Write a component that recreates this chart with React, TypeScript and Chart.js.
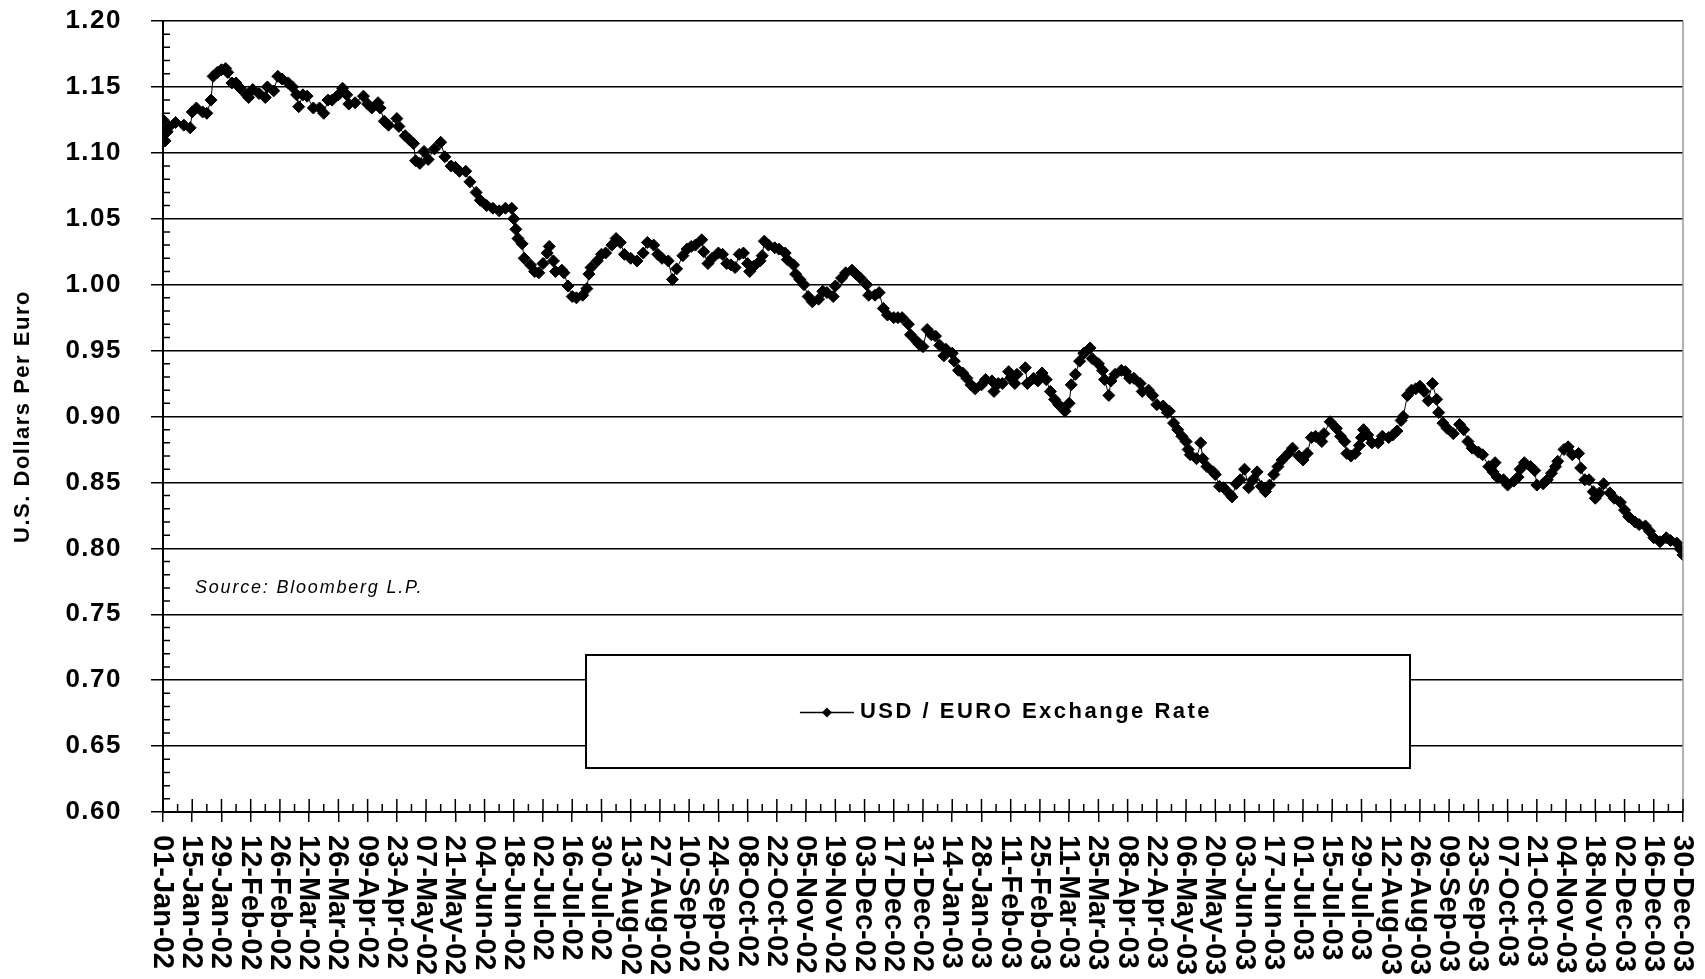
import React, { useEffect, useRef } from 'react';
import { Chart, registerables } from 'chart.js';

Chart.register(...registerables);

// ---------- data ----------
const tickLabels = [
  '01-Jan-02', '15-Jan-02', '29-Jan-02', '12-Feb-02', '26-Feb-02', '12-Mar-02', '26-Mar-02',
  '09-Apr-02', '23-Apr-02', '07-May-02', '21-May-02', '04-Jun-02', '18-Jun-02', '02-Jul-02',
  '16-Jul-02', '30-Jul-02', '13-Aug-02', '27-Aug-02', '10-Sep-02', '24-Sep-02', '08-Oct-02',
  '22-Oct-02', '05-Nov-02', '19-Nov-02', '03-Dec-02', '17-Dec-02', '31-Dec-02', '14-Jan-03',
  '28-Jan-03', '11-Feb-03', '25-Feb-03', '11-Mar-03', '25-Mar-03', '08-Apr-03', '22-Apr-03',
  '06-May-03', '20-May-03', '03-Jun-03', '17-Jun-03', '01-Jul-03', '15-Jul-03', '29-Jul-03',
  '12-Aug-03', '26-Aug-03', '09-Sep-03', '23-Sep-03', '07-Oct-03', '21-Oct-03', '04-Nov-03',
  '18-Nov-03', '02-Dec-03', '16-Dec-03', '30-Dec-03',
];

// days counted from 01-Jan-02
const daysH1_02 = [
  0, 1, 2, 3, 6, 10, 13, 14, 16, 19,
  21, 23, 24, 26, 28, 30, 31, 33, 35, 37,
  40, 41, 43, 46, 49, 50, 53, 55, 57, 60,
  62, 64, 65, 67, 69, 72, 75, 77, 79, 81,
  84, 86, 88, 89, 92, 96, 98, 100, 103, 104,
  106, 108, 112, 113, 116, 118, 120, 121, 123, 125,
  127, 130, 133, 135, 138, 140, 142, 145, 147, 150,
  152,
];
const ratesH1_02 = [
  1.125, 1.109, 1.116, 1.120, 1.123, 1.121, 1.119, 1.131, 1.134, 1.131,
  1.130, 1.140, 1.158, 1.161, 1.163, 1.164, 1.161, 1.153, 1.153, 1.149,
  1.144, 1.142, 1.148, 1.145, 1.142, 1.150, 1.147, 1.158, 1.156, 1.153,
  1.150, 1.144, 1.135, 1.144, 1.143, 1.134, 1.134, 1.130, 1.140, 1.140,
  1.144, 1.149, 1.144, 1.137, 1.138, 1.143, 1.137, 1.134, 1.138, 1.134,
  1.124, 1.121, 1.126, 1.120, 1.113, 1.110, 1.107, 1.094, 1.092, 1.101,
  1.095, 1.103, 1.108, 1.097, 1.090, 1.089, 1.086, 1.086, 1.078, 1.070,
  1.064,
];

const daysH2_02 = [
  155, 158, 161, 164, 167, 168, 169, 170, 172, 173,
  176, 178, 180, 182, 184, 185, 187, 188, 191, 192,
  194, 196, 198, 201, 203, 204, 205, 208, 210, 212,
  215, 217, 219, 221, 224, 227, 230, 232, 235, 237,
  239, 242, 244, 246, 249, 251, 253, 255, 258, 259,
  261, 263, 266, 268, 270, 272, 274, 276, 278, 280,
  281, 283, 286, 287, 288, 290, 293, 295, 298, 299,
  302, 303, 305, 307, 309, 311, 314, 316, 318, 321,
  322, 325, 327, 330, 332, 334, 337, 338, 341, 343,
  345, 347, 350, 352, 354, 357, 358, 361, 362,
];
const ratesH2_02 = [
  1.060, 1.058, 1.056, 1.058, 1.058, 1.050, 1.042, 1.035, 1.031, 1.020,
  1.015, 1.010, 1.009, 1.016, 1.024, 1.029, 1.018, 1.010, 1.011, 1.009,
  0.999, 0.991, 0.990, 0.992, 0.997, 1.008, 1.013, 1.018, 1.023, 1.024,
  1.030, 1.035, 1.032, 1.023, 1.020, 1.018, 1.024, 1.032, 1.030, 1.023,
  1.020, 1.018, 1.004, 1.012, 1.022, 1.027, 1.029, 1.030, 1.034, 1.025,
  1.016, 1.020, 1.024, 1.023, 1.016, 1.015, 1.013, 1.023, 1.024, 1.016,
  1.010, 1.014, 1.018, 1.022, 1.033, 1.030, 1.028, 1.027, 1.024, 1.019,
  1.015, 1.008, 1.004, 1.000, 0.991, 0.987, 0.989, 0.995, 0.994, 0.991,
  0.999, 1.005, 1.009, 1.011, 1.008, 1.005, 1.000, 0.992, 0.992, 0.994,
  0.982, 0.977, 0.975, 0.975, 0.975, 0.970, 0.962, 0.957, 0.955,
];

const days03a = [
  364, 366, 368, 370, 372, 374, 375, 378, 379, 381,
  383, 385, 387, 389, 392, 394, 397, 398, 400, 402,
  405, 406, 408, 409, 413, 414, 417, 419, 421, 423,
  425, 427, 429, 432, 434, 435, 437, 439, 441, 444,
  445, 448, 450, 451, 453, 454, 456, 459, 461, 463,
  465, 468, 469, 472, 474, 476, 479, 481, 482, 484,
  486, 488, 490, 491, 492, 495, 497, 498, 500, 503,
  504, 506, 508, 511, 512, 514, 516, 518, 520, 522,
  524, 526, 528, 530, 532, 534, 536, 539, 541, 544,
  546, 548, 550, 552, 555, 556, 559, 562, 564, 566,
  567, 569, 571, 573, 574, 575, 577, 579, 582, 584,
  587, 589, 591, 593, 594, 596, 598, 600, 602, 604,
  606, 608, 610, 611,
];
const rates03a = [
  0.953, 0.966, 0.962, 0.961, 0.954, 0.946, 0.951, 0.948, 0.942, 0.935,
  0.933, 0.929, 0.924, 0.921, 0.924, 0.928, 0.927, 0.919, 0.925, 0.925,
  0.934, 0.929, 0.925, 0.932, 0.937, 0.925, 0.929, 0.927, 0.933, 0.928,
  0.919, 0.913, 0.909, 0.904, 0.910, 0.924, 0.932, 0.942, 0.948, 0.952,
  0.944, 0.940, 0.935, 0.928, 0.916, 0.927, 0.932, 0.935, 0.934, 0.929,
  0.929, 0.925, 0.919, 0.920, 0.916, 0.909, 0.908, 0.903, 0.904, 0.895,
  0.890, 0.885, 0.881, 0.875, 0.871, 0.868, 0.880, 0.868, 0.862, 0.858,
  0.856, 0.847, 0.846, 0.841, 0.839, 0.849, 0.852, 0.860, 0.846, 0.852,
  0.858, 0.847, 0.843, 0.848, 0.856, 0.862, 0.867, 0.872, 0.876, 0.870,
  0.867, 0.872, 0.884, 0.885, 0.881, 0.887, 0.896, 0.891, 0.885, 0.881,
  0.872, 0.870, 0.872, 0.878, 0.884, 0.890, 0.886, 0.880, 0.880, 0.885,
  0.884, 0.886, 0.889, 0.897, 0.900, 0.916, 0.920, 0.921, 0.923, 0.919,
  0.912, 0.925, 0.913, 0.903,
];

const days03b = [
  613, 615, 618, 621, 623, 625, 627, 630, 632, 635,
  637, 638, 639, 642, 644, 647, 649, 650, 652, 655,
  657, 658, 661, 663, 665, 667, 668, 671, 673, 675,
  678, 679, 681, 683, 685, 686, 688, 690, 693, 695,
  698, 700, 702, 705, 707, 710, 712, 714, 717, 720,
  722, 725, 727, 728,
];
const rates03b = [
  0.895, 0.891, 0.887, 0.894, 0.890, 0.881, 0.876, 0.873, 0.871, 0.862,
  0.858, 0.865, 0.854, 0.852, 0.848, 0.851, 0.854, 0.860, 0.865, 0.862,
  0.859, 0.848, 0.849, 0.852, 0.857, 0.862, 0.866, 0.875, 0.877, 0.871,
  0.872, 0.861, 0.852, 0.852, 0.843, 0.838, 0.842, 0.849, 0.842, 0.838,
  0.835, 0.829, 0.824, 0.820, 0.818, 0.817, 0.813, 0.808, 0.805, 0.808,
  0.806, 0.804, 0.799, 0.795,
];

const yMin = 0.6;
const yMax = 1.2;
const yStep = 0.05;
const yMinorStep = 0.01;
const dayMax = 728;
const dayStep = 14;
const dayMinorStep = 7;

const seriesLabel = 'USD / EURO Exchange Rate';
const axisTitle = 'U.S. Dollars Per Euro';
const sourceNote = 'Source: Bloomberg L.P.';

const FONT = '"Liberation Sans", Arial, Helvetica, sans-serif';

export default function App() {
  const ref = useRef<HTMLCanvasElement>(null);

  useEffect(() => {
    document.body.style.margin = '0';
    document.body.style.overflow = 'hidden';
    const canvas = ref.current;
    if (!canvas) return;

    const allDays = [...daysH1_02, ...daysH2_02, ...days03a, ...days03b];
    const allRates = [...ratesH1_02, ...ratesH2_02, ...rates03a, ...rates03b];
    const n = Math.min(allDays.length, allRates.length);
    const points = [];
    for (let i = 0; i < n; i++) points.push({ x: allDays[i], y: allRates[i] });

    const decorations = {
      id: 'decorations',
      beforeDraw(chart: any) {
        (chart.ctx as any).letterSpacing = '1.5px';
      },
      afterDraw(chart: any) {
        const { ctx, chartArea: ca, scales } = chart;
        const xs = scales.x;
        const ys = scales.y;
        const w = ca.right - ca.left;
        const h = ca.bottom - ca.top;
        ctx.save();
        (ctx as any).letterSpacing = '0px';

        // right border
        ctx.strokeStyle = '#9a9a9a';
        ctx.lineWidth = 1.5;
        ctx.beginPath();
        ctx.moveTo(ca.right, ca.top);
        ctx.lineTo(ca.right, ca.bottom);
        ctx.stroke();

        // minor ticks on y axis (inside)
        ctx.strokeStyle = '#000';
        ctx.lineWidth = 1.5;
        const nMinor = Math.round((yMax - yMin) / yMinorStep);
        const per = Math.round(yStep / yMinorStep);
        ctx.beginPath();
        for (let i = 0; i <= nMinor; i++) {
          if (i % per === 0) continue;
          const py = ys.getPixelForValue(yMin + i * yMinorStep);
          ctx.moveTo(ca.left, py);
          ctx.lineTo(ca.left + 7, py);
        }
        // x ticks inside (major crosses, minor inside)
        for (let d = 0; d <= dayMax; d += dayMinorStep) {
          const px = xs.getPixelForValue(d);
          const len = d % dayStep === 0 ? 13 : 8;
          ctx.moveTo(px, ca.bottom);
          ctx.lineTo(px, ca.bottom - len);
        }
        ctx.stroke();

        // x tick labels, rotated clockwise
        ctx.fillStyle = '#000';
        ctx.font = `bold 29px ${FONT}`;
        ctx.textAlign = 'left';
        ctx.textBaseline = 'middle';
        xs.ticks.forEach((t: any) => {
          const idx = Math.round(t.value / dayStep);
          const label = tickLabels[idx];
          if (label === undefined) return;
          const px = xs.getPixelForValue(t.value);
          ctx.save();
          ctx.translate(px, ca.bottom + 23);
          ctx.rotate(Math.PI / 2);
          ctx.fillText(label, 0, 1);
          ctx.restore();
        });

        // source note
        ctx.font = `italic 18px ${FONT}`;
        (ctx as any).letterSpacing = '1.8px';
        ctx.textBaseline = 'alphabetic';
        ctx.fillText(sourceNote, ca.left + 32, ca.top + 0.723 * h);

        // legend box
        const x0 = ca.left + 0.2783 * w;
        const x1 = ca.left + 0.8204 * w;
        const y0 = ca.top + 0.8015 * h;
        const y1 = ca.top + 0.9444 * h;
        ctx.fillStyle = '#fff';
        ctx.fillRect(x0, y0, x1 - x0, y1 - y0);
        ctx.strokeStyle = '#000';
        ctx.lineWidth = 2;
        ctx.strokeRect(x0, y0, x1 - x0, y1 - y0);

        ctx.font = `bold 22px ${FONT}`;
        (ctx as any).letterSpacing = '2.5px';
        const tw = ctx.measureText(seriesLabel).width;
        const total = 60 + tw;
        const cy = (y0 + y1) / 2;
        const sx = (x0 + x1) / 2 - total / 2 + 8;
        ctx.lineWidth = 1.5;
        ctx.beginPath();
        ctx.moveTo(sx, cy + 1);
        ctx.lineTo(sx + 54, cy + 1);
        ctx.stroke();
        ctx.fillStyle = '#000';
        ctx.beginPath();
        ctx.moveTo(sx + 27, cy + 1 - 5);
        ctx.lineTo(sx + 32, cy + 1);
        ctx.lineTo(sx + 27, cy + 1 + 5);
        ctx.lineTo(sx + 22, cy + 1);
        ctx.closePath();
        ctx.fill();
        ctx.textBaseline = 'middle';
        ctx.fillText(seriesLabel, sx + 60, cy);

        ctx.restore();
      },
    };

    const chart = new Chart(canvas, {
      type: 'line',
      data: {
        datasets: [
          {
            label: seriesLabel,
            data: points,
            borderColor: '#000',
            borderWidth: 1,
            backgroundColor: '#000',
            pointStyle: 'rectRot',
            pointRadius: 6,
            pointBackgroundColor: '#000',
            pointBorderColor: '#000',
            pointBorderWidth: 1,
            tension: 0,
            fill: false,
          },
        ],
      },
      options: {
        responsive: false,
        animation: false,
        devicePixelRatio: 1,
        layout: { padding: { left: 0, top: 21, right: 22, bottom: 0 } },
        plugins: {
          legend: { display: false },
          tooltip: { enabled: false },
        },
        scales: {
          x: {
            type: 'linear',
            min: 0,
            max: dayMax,
            afterFit: (s: any) => {
              s.height = 167;
              s.paddingLeft = 0;
              s.paddingRight = 0;
            },
            ticks: {
              display: false,
              stepSize: dayStep,
              autoSkip: false,
              maxTicksLimit: 200,
            },
            grid: {
              display: true,
              drawOnChartArea: false,
              drawTicks: true,
              tickLength: 10,
              color: '#000',
              lineWidth: 1.5,
            },
            border: { display: true, color: '#000', width: 2 },
          },
          y: {
            type: 'linear',
            min: yMin,
            max: yMax,
            afterFit: (s: any) => {
              s.width = 163;
              s.paddingTop = 0;
              s.paddingBottom = 0;
            },
            ticks: {
              stepSize: yStep,
              autoSkip: false,
              padding: 29,
              color: '#000',
              font: { family: FONT, size: 26, weight: 'bold' },
              callback: (v: any) => Number(v).toFixed(2),
            },
            grid: {
              display: true,
              drawTicks: true,
              tickLength: 12,
              color: '#000',
              lineWidth: 1.5,
            },
            border: { display: true, color: '#000', width: 2 },
            title: {
              display: true,
              text: axisTitle,
              color: '#000',
              font: { family: FONT, size: 22, weight: 'bold' },
              padding: { top: 10, bottom: 0 },
            },
          },
        },
      },
      plugins: [decorations],
    });

    return () => {
      chart.destroy();
    };
  }, []);

  return (
    <div style={{ position: 'fixed', left: 0, top: 0, width: 1705, height: 979, background: '#fff' }}>
      <canvas ref={ref} width={1705} height={979} style={{ display: 'block' }} />
    </div>
  );
}
